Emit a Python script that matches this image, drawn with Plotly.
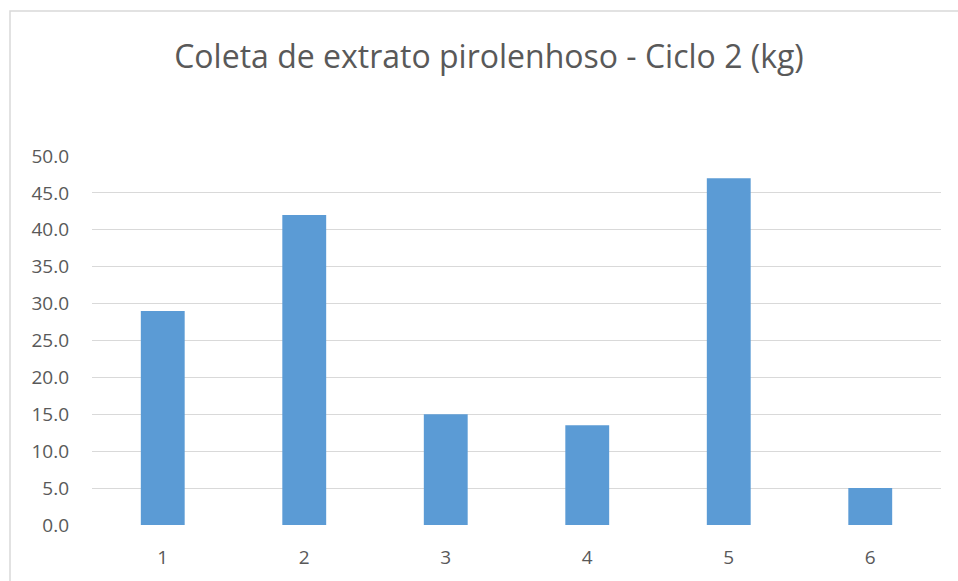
import plotly.graph_objects as go

categories = ["1", "2", "3", "4", "5", "6"]
values = [29.0, 42.0, 15.0, 13.5, 47.0, 5.0]
y_ticks = [0, 5, 10, 15, 20, 25, 30, 35, 40, 45, 50]

TXT = "#595959"
fig = go.Figure(go.Bar(x=categories, y=values, marker_color="#5B9BD5",
                       marker_line_width=0))

L, R, T, B = 92, 17, 156, 56
W, H = 958, 581
pw, ph = W - L - R, H - T - B

fig.update_layout(
    width=W, height=H,
    margin=dict(l=L, r=R, t=T, b=B),
    paper_bgcolor="white", plot_bgcolor="white",
    bargap=0.69,
    showlegend=False,
    title=dict(text="Coleta de extrato pirolenhoso - Ciclo 2 (kg)",
               x=(489) / W, xanchor="center", y=1 - 57 / H, yanchor="middle",
               font=dict(family="Open Sans", size=32, color=TXT)),
    font=dict(family="Open Sans", size=19, color=TXT),
)
fig.update_yaxes(range=[0, 50], tickvals=y_ticks, tickformat=".1f",
                 showgrid=True, gridcolor="#D9D9D9", gridwidth=1,
                 zeroline=False, showline=False, ticks="",
                 ticklabelstandoff=22, tickfont=dict(size=19, color=TXT))
fig.update_xaxes(showgrid=False, zeroline=False, showline=False, ticks="",
                 ticklabelstandoff=19, tickfont=dict(size=19, color=TXT))

# chart border (cropped at right and bottom)
x0 = (10 - L) / pw
x1 = (W + 5 - L) / pw
y1 = (H - B - 11) / ph
y0 = (H - B - (H + 5)) / ph
fig.add_shape(type="rect", xref="paper", yref="paper", x0=x0, x1=x1, y0=y0, y1=y1,
              line=dict(color="#D9D9D9", width=1.5), fillcolor="rgba(0,0,0,0)", layer="below")

fig.write_html("out.html")
